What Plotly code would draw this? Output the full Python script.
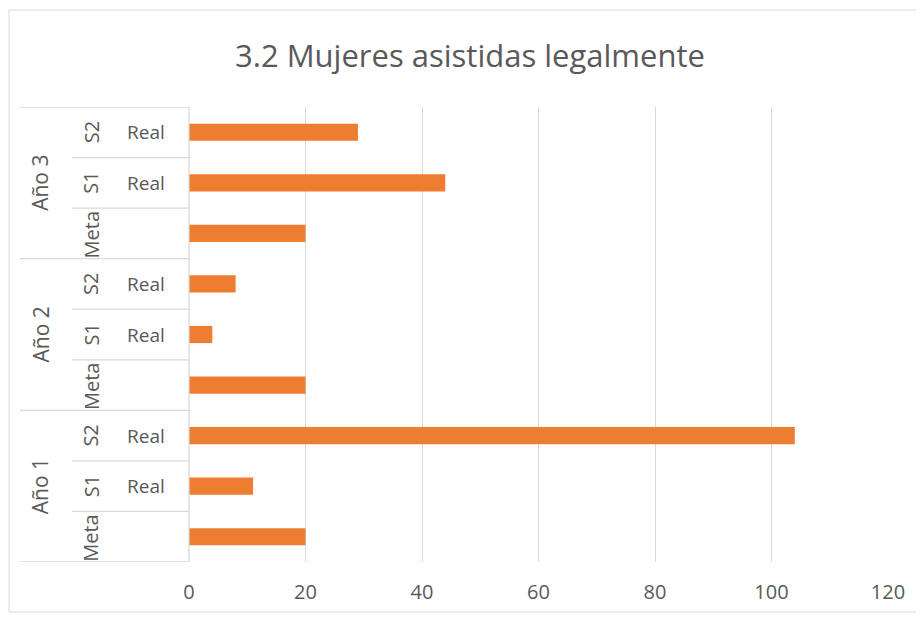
import plotly.graph_objects as go

# ---- data ----
years = ["Año 1", "Año 1", "Año 1", "Año 2", "Año 2", "Año 2", "Año 3", "Año 3", "Año 3"]
periods = ["Meta", "S1", "S2", "Meta", "S1", "S2", "Meta", "S1", "S2"]
kinds = ["", "Real", "Real", "", "Real", "Real", "", "Real", "Real"]
values = [20, 11, 104, 20, 4, 8, 20, 44, 29]
x_ticks = [0, 20, 40, 60, 80, 100, 120]
title_text = "3.2 Mujeres asistidas legalmente"

cats = [f"{y}|{p}|{k}" for y, p, k in zip(years, periods, kinds)]

OFF = 8  # browser body margin
W, H = 924 - OFF, 617 - OFF
# page-pixel plot area: x 189..888, y 107..562
L, R, T, B = 189 - OFF, 36, 107 - OFF, 55
pw = W - L - R
ph = H - T - B


def px2paper_x(px):  # page px
    return (px - OFF - L) / pw


def px2paper_y(py):  # page px
    return (H - B - (py - OFF)) / ph


grey_txt = "#595959"
line_col = "#D9D9D9"
font_fam = "'Open Sans', Lato, sans-serif"

fig = go.Figure()
fig.add_trace(go.Bar(
    y=cats, x=values, orientation="h",
    marker=dict(color="#ED7D31", line=dict(width=0)),
    width=0.34, hoverinfo="x+y",
))

shapes = []
annotations = []
n = len(cats)
for i in range(n + 1):
    yb = i - 0.5
    if i == 0 or i == n or years[i] != years[i - 1]:
        x0 = px2paper_x(20)
    else:
        x0 = px2paper_x(72)
    shapes.append(dict(type="line", xref="paper", yref="y", x0=x0, x1=0,
                       y0=yb, y1=yb, line=dict(color=line_col, width=1.3)))
shapes.append(dict(type="line", xref="paper", yref="paper", x0=0, x1=0,
                   y0=0, y1=1, line=dict(color=line_col, width=1.3)))
shapes.append(dict(type="rect", xref="paper", yref="paper",
                   x0=px2paper_x(9), x1=px2paper_x(919),
                   y0=px2paper_y(612), y1=px2paper_y(10),
                   line=dict(color=line_col, width=1)))

seen = {}
for i, y in enumerate(years):
    seen.setdefault(y, []).append(i)
for y, idx in seen.items():
    annotations.append(dict(text=y, xref="paper", yref="y", x=px2paper_x(40),
                            y=sum(idx) / len(idx), textangle=-90, showarrow=False,
                            font=dict(size=21, color=grey_txt, family=font_fam),
                            xanchor="center", yanchor="middle"))
for i, (p, k) in enumerate(zip(periods, kinds)):
    annotations.append(dict(text=p, xref="paper", yref="y", x=px2paper_x(91),
                            y=i if k else i - 0.04, textangle=-90, showarrow=False,
                            font=dict(size=20, color=grey_txt, family=font_fam),
                            xanchor="center", yanchor="middle"))
    if k:
        annotations.append(dict(text=k, xref="paper", yref="y", x=px2paper_x(146),
                                y=i, showarrow=False,
                                font=dict(size=19, color=grey_txt, family=font_fam),
                                xanchor="center", yanchor="middle"))

fig.update_layout(
    width=W, height=H,
    margin=dict(l=L, r=R, t=T, b=B),
    paper_bgcolor="white", plot_bgcolor="white",
    title=dict(text=title_text, xref="container", yref="container",
               x=(470 - OFF) / W, y=1 - (56 - OFF) / H, xanchor="center", yanchor="middle",
               font=dict(size=31, color=grey_txt, family=font_fam)),
    showlegend=False,
    shapes=shapes, annotations=annotations,
)
fig.update_xaxes(range=[0, 120], tickvals=x_ticks, showgrid=True, gridcolor=line_col,
                 gridwidth=1.3, zeroline=False, showline=False,
                 tickfont=dict(size=20, color=grey_txt, family=font_fam),
                 ticklabelstandoff=16, fixedrange=True)
fig.update_yaxes(categoryorder="array", categoryarray=cats, showticklabels=False,
                 showgrid=False, zeroline=False, showline=False,
                 range=[-0.5, n - 0.5], fixedrange=True)

fig.write_html("out.html")
